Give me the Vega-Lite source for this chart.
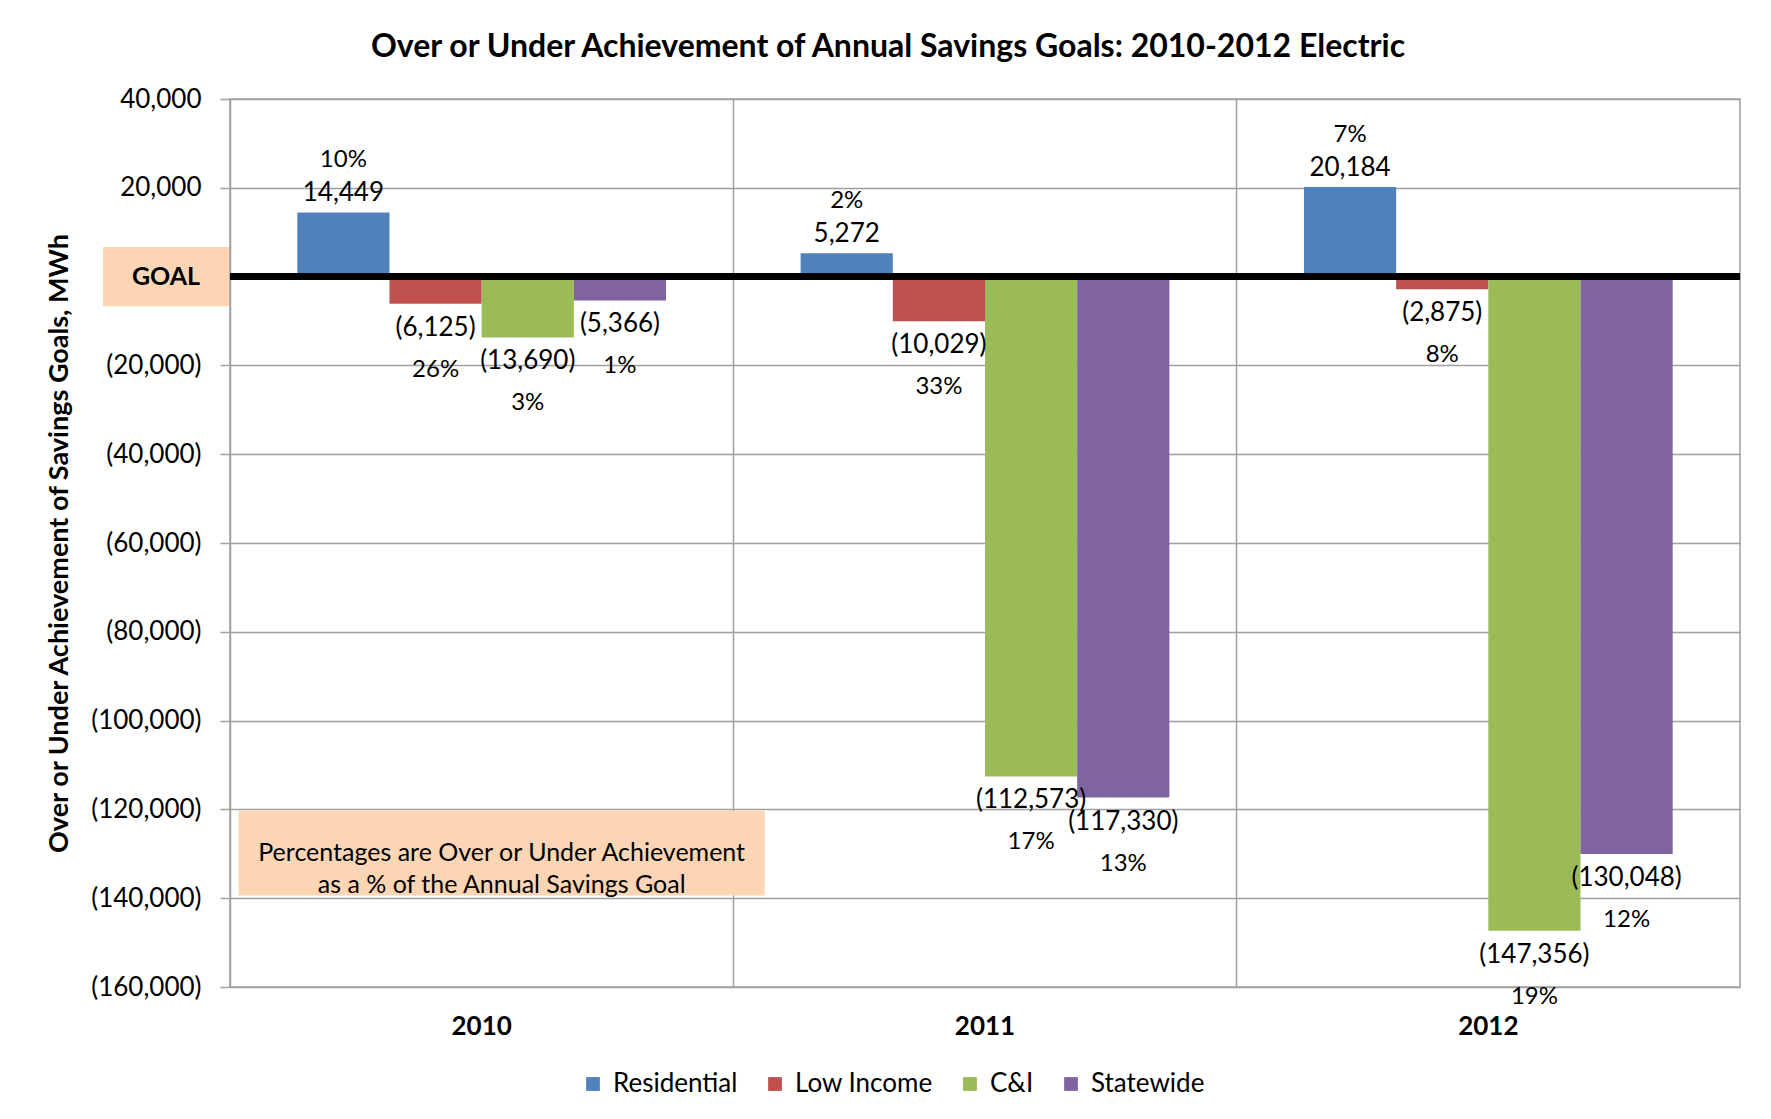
{
  "$schema": "https://vega.github.io/schema/vega-lite/v6.json",
  "width": 1510,
  "height": 888,
  "autosize": "none",
  "padding": {"left": 230, "top": 99, "right": 31, "bottom": 132},
  "background": "white",
  "config": {
    "font": "Lato",
    "view": {"stroke": "#A0A0A0", "strokeWidth": 1.5},
    "text": {"font": "Lato", "fontSize": 26, "color": "black"}
  },
  "title": {
    "text": "Over or Under Achievement of Annual Savings Goals: 2010-2012 Electric",
    "fontSize": 32,
    "fontWeight": "bold",
    "color": "black",
    "anchor": "middle",
    "frame": "group",
    "dx": -97,
    "offset": 22
  },
  "datasets": {
    "bars": [
      {"year": "2010", "series": "Residential", "value": 14449, "label": "14,449", "pct": "10%"},
      {"year": "2010", "series": "Low Income", "value": -6125, "label": "(6,125)", "pct": "26%"},
      {"year": "2010", "series": "C&I", "value": -13690, "label": "(13,690)", "pct": "3%"},
      {"year": "2010", "series": "Statewide", "value": -5366, "label": "(5,366)", "pct": "1%"},
      {"year": "2011", "series": "Residential", "value": 5272, "label": "5,272", "pct": "2%"},
      {"year": "2011", "series": "Low Income", "value": -10029, "label": "(10,029)", "pct": "33%"},
      {"year": "2011", "series": "C&I", "value": -112573, "label": "(112,573)", "pct": "17%"},
      {"year": "2011", "series": "Statewide", "value": -117330, "label": "(117,330)", "pct": "13%"},
      {"year": "2012", "series": "Residential", "value": 20184, "label": "20,184", "pct": "7%"},
      {"year": "2012", "series": "Low Income", "value": -2875, "label": "(2,875)", "pct": "8%"},
      {"year": "2012", "series": "C&I", "value": -147356, "label": "(147,356)", "pct": "19%"},
      {"year": "2012", "series": "Statewide", "value": -130048, "label": "(130,048)", "pct": "12%"}
    ],
    "goal": [{"label": "GOAL", "top": 6650, "bottom": -6650, "mid": 0}],
    "note": [{"year": "2010", "top": -120300, "bottom": -139400, "mid": -129850, "text": "Percentages are Over or Under Achievement\nas a % of the Annual Savings Goal"}]
  },
  "layer": [
    {
      "data": {"name": "bars"},
      "encoding": {
        "x": {
          "field": "year",
          "type": "nominal",
          "scale": {"paddingInner": 0, "paddingOuter": 0},
          "axis": {
            "title": null,
            "orient": "bottom",
            "bandPosition": 0,
            "grid": true,
            "gridColor": "#A0A0A0",
            "gridWidth": 1.5,
            "domain": false,
            "ticks": false,
            "tickSize": 0,
            "labelAngle": 0,
            "labelFont": "Lato",
            "labelFontSize": 26,
            "labelFontWeight": "bold",
            "labelColor": "black",
            "labelPadding": 26
          }
        },
        "xOffset": {
          "field": "series",
          "type": "nominal",
          "sort": ["Residential", "Low Income", "C&I", "Statewide"],
          "scale": {"paddingInner": 0, "paddingOuter": 0.73}
        },
        "y": {
          "field": "value",
          "type": "quantitative",
          "scale": {"domain": [-160000, 40000], "nice": false},
          "axis": {
            "title": "Over or Under Achievement of Savings Goals, MWh",
            "titleFont": "Lato",
            "titleFontSize": 27,
            "titleFontWeight": "bold",
            "titleColor": "black",
            "titleX": -171,
            "titleY": 444,
            "titleAlign": "center",
            "titleBaseline": "middle",
            "titleAngle": 270,
            "values": [-160000, -140000, -120000, -100000, -80000, -60000, -40000, -20000, 0, 20000, 40000],
            "labelExpr": "datum.value == 0 ? '' : (datum.value < 0 ? '(' + format(-datum.value, ',') + ')' : format(datum.value, ',') + '\u00a0')",
            "labelFont": "Lato",
            "labelFontSize": 26,
            "labelColor": "black",
            "labelPadding": 19,
            "tickSize": 10,
            "tickColor": "#A0A0A0",
            "tickWidth": 1.5,
            "domain": false,
            "grid": true,
            "gridColor": "#A0A0A0",
            "gridWidth": 1.5
          }
        }
      },
      "layer": [
        {
          "mark": {"type": "bar"},
          "encoding": {
            "y2": {"datum": 0},
            "color": {
              "field": "series",
              "type": "nominal",
              "scale": {
                "domain": ["Residential", "Low Income", "C&I", "Statewide"],
                "range": ["#4F81BD", "#C0504D", "#9BBB59", "#8064A2"]
              },
              "legend": {
                "title": null,
                "orient": "none",
                "direction": "horizontal",
                "legendX": 350,
                "legendY": 972,
                "symbolType": "square",
                "symbolSize": 190,
                "symbolStrokeWidth": 0,
                "labelFont": "Lato",
                "labelFontSize": 26,
                "labelColor": "black",
                "labelOffset": 7,
                "columnPadding": 24
              }
            }
          }
        },
        {
          "transform": [{"filter": "datum.value > 0"}],
          "mark": {"type": "text", "dy": -19, "baseline": "middle"},
          "encoding": {"text": {"field": "label"}}
        },
        {
          "transform": [{"filter": "datum.value > 0"}],
          "mark": {"type": "text", "dy": -52, "baseline": "middle", "fontSize": 24},
          "encoding": {"text": {"field": "pct"}}
        },
        {
          "transform": [{"filter": "datum.value < 0"}],
          "mark": {"type": "text", "dy": 24, "baseline": "middle"},
          "encoding": {"text": {"field": "label"}}
        },
        {
          "transform": [{"filter": "datum.value < 0"}],
          "mark": {"type": "text", "dy": 66, "baseline": "middle", "fontSize": 24},
          "encoding": {"text": {"field": "pct"}}
        }
      ]
    },
    {
      "data": {"name": "goal"},
      "mark": {"type": "rect", "fill": "#FCD5B5", "clip": false},
      "encoding": {
        "x": {"value": -127},
        "x2": {"value": -1},
        "y": {"field": "top", "type": "quantitative"},
        "y2": {"field": "bottom"}
      }
    },
    {
      "data": {"name": "goal"},
      "mark": {"type": "text", "fontWeight": "bold", "fontSize": 25, "baseline": "middle", "align": "center"},
      "encoding": {
        "x": {"value": -64},
        "y": {"field": "mid", "type": "quantitative"},
        "text": {"field": "label"}
      }
    },
    {
      "data": {"name": "goal"},
      "mark": {"type": "rule", "color": "black", "strokeWidth": 7},
      "encoding": {"y": {"field": "mid", "type": "quantitative"}}
    },
    {
      "data": {"name": "note"},
      "mark": {"type": "bar", "fill": "#FCD5B5", "width": {"band": 1.045}, "xOffset": 20},
      "encoding": {
        "x": {"field": "year", "type": "nominal"},
        "y": {"field": "top", "type": "quantitative"},
        "y2": {"field": "bottom"}
      }
    },
    {
      "data": {"name": "note"},
      "mark": {"type": "text", "fontSize": 25, "lineBreak": "\n", "lineHeight": 32, "baseline": "middle", "align": "center", "xOffset": 20},
      "encoding": {
        "x": {"field": "year", "type": "nominal"},
        "y": {"field": "mid", "type": "quantitative"},
        "text": {"field": "text"}
      }
    }
  ]
}
